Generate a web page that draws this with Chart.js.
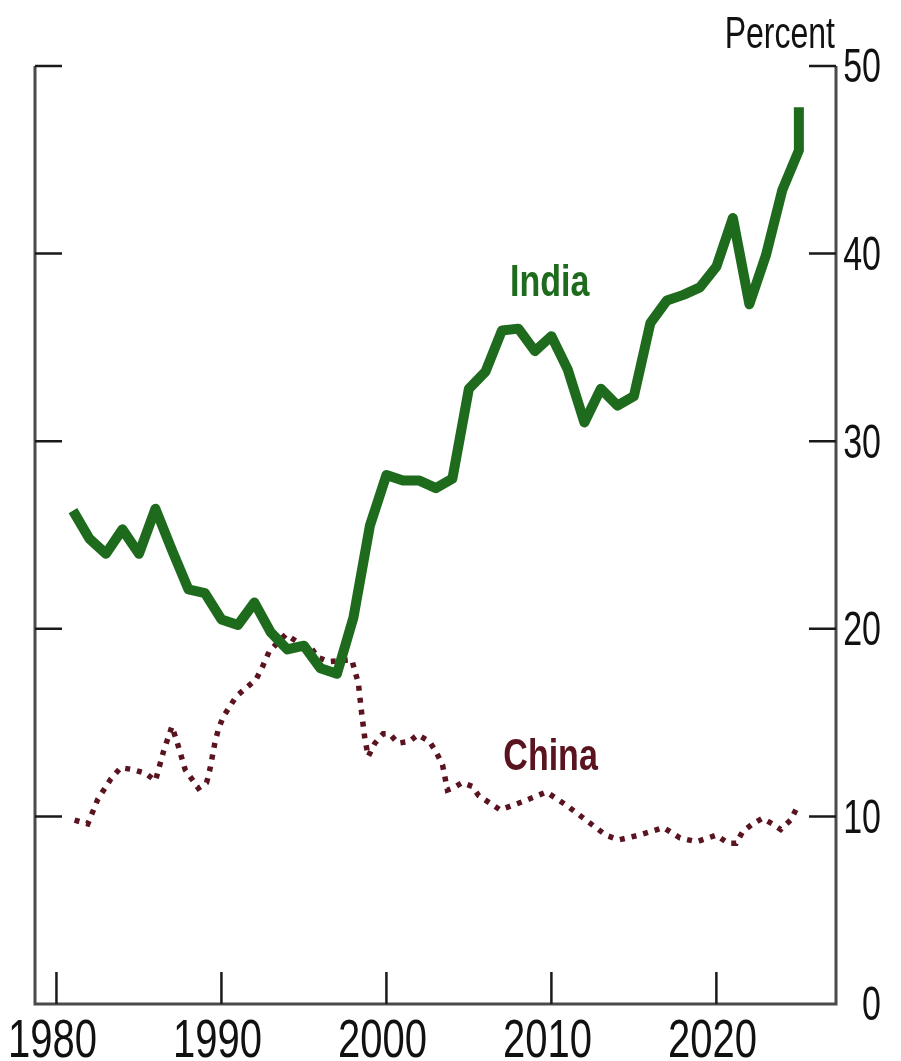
<!DOCTYPE html>
<html>
<head>
<meta charset="utf-8">
<script src="https://cdn.jsdelivr.net/npm/chart.js@4.4.1/dist/chart.umd.min.js"></script>
<style>
  html, body { margin: 0; padding: 0; background: #fff; }
  #wrap { width: 901px; height: 1061px; }
</style>
</head>
<body>
<div id="wrap"><canvas id="shareChart" width="901" height="1061"></canvas></div>
<script>
// tick labels
const yearTicks = [1980, 1990, 2000, 2010, 2020];
const valueTicks = [0, 10, 20, 30, 40, 50];

// India, percent
const indiaYears = [1981, 1982, 1983, 1984, 1985, 1986, 1987, 1988, 1989, 1990,
  1991, 1992, 1993, 1994, 1995, 1996, 1997, 1998, 1999, 2000,
  2001, 2002, 2003, 2004, 2005, 2006, 2007, 2008, 2009, 2010,
  2011, 2012, 2013, 2014, 2015, 2016, 2017, 2018, 2019, 2020,
  2021, 2022, 2023, 2024, 2025, 2025];
const indiaValues = [26.3, 24.8, 24.0, 25.3, 24.0, 26.4, 24.2, 22.1, 21.9, 20.5,
  20.2, 21.4, 19.8, 18.9, 19.1, 17.9, 17.6, 20.6, 25.5, 28.2,
  27.9, 27.9, 27.5, 28.0, 32.8, 33.7, 35.9, 36.0, 34.8, 35.6,
  33.8, 31.0, 32.8, 31.9, 32.4, 36.3, 37.5, 37.8, 38.2, 39.3,
  41.9, 37.3, 39.9, 43.4, 45.5, 47.8];

// China, percent
const chinaYears = [1981.1, 1981.9, 1982.5, 1983.3, 1983.9, 1984.6, 1985.4, 1986.0, 1986.5, 1987.0,
  1987.3, 1987.8, 1988.6, 1989.1, 1989.3, 1989.6, 1989.8, 1990.1, 1990.9, 1992.1,
  1992.5, 1992.9, 1993.9, 1994.6, 1995.4, 1995.8, 1996.5, 1997.9, 1998.3, 1998.5,
  1998.7, 1998.9, 1999.3, 1999.8, 2000.2, 2000.7, 2001.4, 2001.9, 2002.6, 2003.0,
  2003.4, 2003.7, 2004.0, 2004.6, 2005.2, 2005.6, 2006.9, 2008.3, 2009.7, 2010.9,
  2012.1, 2013.3, 2014.1, 2015.3, 2016.8, 2017.8, 2018.8, 2020.0, 2020.7, 2021.2,
  2021.6, 2022.2, 2022.8, 2023.4, 2023.9, 2024.5, 2024.9];
const chinaValues = [9.8, 9.6, 10.9, 12.0, 12.6, 12.5, 12.3, 11.9, 13.5, 14.8,
  14.0, 12.5, 11.5, 11.8, 12.5, 13.9, 14.6, 15.3, 16.4, 17.3,
  18.0, 18.8, 19.7, 19.3, 19.05, 18.5, 18.25, 18.35, 17.1, 15.5,
  14.1, 13.2, 13.9, 14.4, 14.4, 13.9, 14.0, 14.35, 14.0, 13.45,
  12.75, 11.4, 11.5, 11.8, 11.6, 11.1, 10.35, 10.8, 11.3, 10.6,
  9.8, 9.0, 8.75, 9.0, 9.4, 8.85, 8.65, 9.0, 8.57, 8.57,
  9.2, 9.6, 9.9, 9.6, 9.3, 9.8, 10.5];

const indiaColor = "#1e6b1e";
const chinaColor = "#5a1420";
const fontFamily = "'Liberation Sans', Arial, sans-serif";

function toPoints(xs, ys) {
  return xs.map((x, i) => ({ x: x, y: ys[i] }));
}

// the source picture has tall, narrow lettering, so text is stretched vertically
function tallText(ctx, text, x, y, stretch) {
  ctx.save();
  ctx.translate(x, y);
  ctx.scale(1, stretch);
  ctx.fillText(text, 0, 0);
  ctx.restore();
}

// frame, inward ticks and all text
const frameTicks = {
  id: "frameTicks",
  afterDatasetsDraw(chart) {
    const { ctx, chartArea: a, scales } = chart;
    ctx.save();
    ctx.strokeStyle = "#4a4a4a";
    ctx.lineWidth = 3;
    ctx.beginPath();
    ctx.moveTo(a.left, a.top);
    ctx.lineTo(a.left, a.bottom);
    ctx.lineTo(a.right, a.bottom);
    ctx.lineTo(a.right, a.top);
    ctx.stroke();

    ctx.strokeStyle = "#1a1a1a";
    ctx.lineWidth = 2.5;
    ctx.beginPath();
    valueTicks.forEach(v => {
      if (v === 0) return;
      const y = scales.y.getPixelForValue(v);
      ctx.moveTo(a.left, y);
      ctx.lineTo(a.left + 27, y);
      ctx.moveTo(a.right - 27, y);
      ctx.lineTo(a.right, y);
    });
    yearTicks.forEach(yr => {
      const x = scales.x.getPixelForValue(yr);
      ctx.moveTo(x, a.bottom);
      ctx.lineTo(x, a.bottom - 32);
    });
    ctx.stroke();

    ctx.fillStyle = "#111";
    ctx.textBaseline = "middle";

    // y tick labels, right side
    ctx.font = "34px " + fontFamily;
    ctx.textAlign = "right";
    valueTicks.forEach(v => {
      tallText(ctx, String(v), a.right + 45, scales.y.getPixelForValue(v) + 3, 1.42);
    });

    // x tick labels
    ctx.font = "40px " + fontFamily;
    ctx.textAlign = "center";
    yearTicks.forEach(yr => {
      tallText(ctx, String(yr), scales.x.getPixelForValue(yr) - 4, a.bottom + 38, 1.32);
    });

    // unit label
    ctx.font = "32px " + fontFamily;
    ctx.textAlign = "right";
    tallText(ctx, "Percent", a.right - 1, 36, 1.38);

    // series labels
    ctx.font = "bold 34px " + fontFamily;
    ctx.textAlign = "center";
    ctx.fillStyle = indiaColor;
    tallText(ctx, "India", scales.x.getPixelForValue(2009.9), scales.y.getPixelForValue(38.4), 1.3);
    ctx.fillStyle = chinaColor;
    tallText(ctx, "China", scales.x.getPixelForValue(2009.95), scales.y.getPixelForValue(13.1), 1.3);
    ctx.restore();
  }
};

const ctx = document.getElementById("shareChart").getContext("2d");

new Chart(ctx, {
  type: "line",
  data: {
    datasets: [{
      label: "India",
      data: toPoints(indiaYears, indiaValues),
      borderColor: indiaColor,
      borderWidth: 10,
      borderJoinStyle: "round",
      pointRadius: 0,
      tension: 0
    }, {
      label: "China",
      data: toPoints(chinaYears, chinaValues),
      borderColor: chinaColor,
      borderWidth: 5.5,
      borderDash: [5, 7],
      pointRadius: 0,
      tension: 0
    }]
  },
  options: {
    responsive: false,
    animation: false,
    layout: { padding: { left: 35, top: 66, right: 20, bottom: 0 } },
    plugins: {
      legend: { display: false },
      tooltip: { enabled: false }
    },
    scales: {
      x: {
        type: "linear",
        min: 1978.7,
        max: 2027.25,
        grid: { display: false },
        border: { display: false },
        afterBuildTicks: s => { s.ticks = yearTicks.map(v => ({ value: v })); },
        afterFit: s => { s.height = 57; },
        ticks: { display: false }
      },
      y: {
        position: "right",
        min: 0,
        max: 50,
        grid: { display: false },
        border: { display: false },
        afterBuildTicks: s => { s.ticks = valueTicks.map(v => ({ value: v })); },
        afterFit: s => { s.width = 45; },
        ticks: { display: false }
      }
    }
  },
  plugins: [frameTicks]
});
</script>
</body>
</html>
